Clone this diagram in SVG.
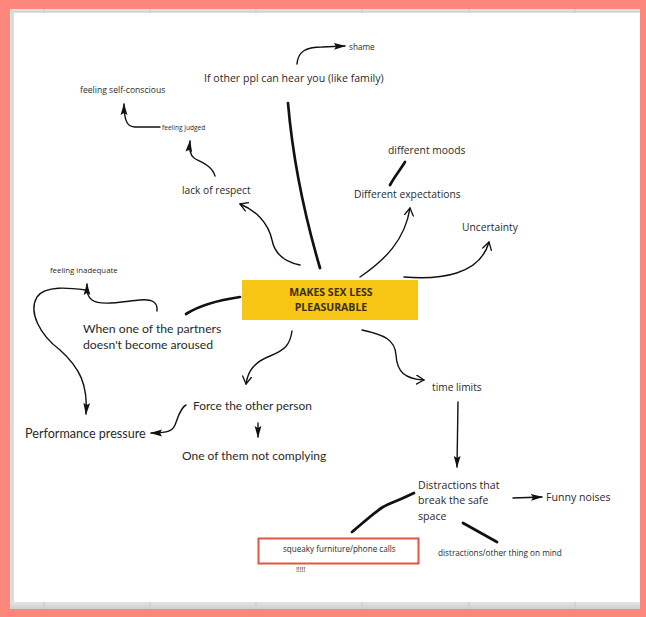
<svg xmlns="http://www.w3.org/2000/svg" width="646" height="617" viewBox="0 0 646 617">
  <defs>
    <style>
      .lbl { font-family: "Open Sans", "Liberation Sans", sans-serif; fill: #2a2a2a; }
      .rnd { font-family: Lato, "Open Sans", sans-serif; fill: #2a2a2a; }
      .head { font-family: "Open Sans", "Liberation Sans", sans-serif; font-weight: bold; fill: #3a2e10; font-size: 10.5px; }
      .ink { fill: none; stroke: #111; stroke-width: 1.4; stroke-linecap: round; stroke-linejoin: round; }
      .thick { fill: none; stroke: #111; stroke-width: 2.7; stroke-linecap: round; }
      .solid { marker-end: url(#tipSolid); }
      .open { marker-end: url(#tipOpen); }
      .grid { stroke: #c9c9c9; stroke-width: 1; }
    </style>
    <marker id="tipSolid" viewBox="0 0 12 8" refX="11" refY="4" markerWidth="12" markerHeight="8" markerUnits="userSpaceOnUse" orient="auto">
      <path d="M0,0.6 L12,4 L0,7.4 L2,4 Z" fill="#111"/>
    </marker>
    <marker id="tipOpen" viewBox="0 0 9 10" refX="8" refY="5" markerWidth="9" markerHeight="10" markerUnits="userSpaceOnUse" orient="auto">
      <path d="M0.5,0.5 L8,5 L0.5,9.5" fill="none" stroke="#111" stroke-width="1.3" stroke-linecap="round" stroke-linejoin="round"/>
    </marker>
    <linearGradient id="shadowB" x1="0" y1="0" x2="0" y2="1">
      <stop offset="0" stop-color="#e4e4e4"/>
      <stop offset="1" stop-color="#cfcfcf"/>
    </linearGradient>
  </defs>

  <!-- page frame -->
  <rect x="0" y="0" width="646" height="617" fill="#fe877c"/>
  <rect x="10" y="9" width="630" height="600" fill="#e3e3e3"/>
  <rect x="10" y="602" width="630" height="7" fill="url(#shadowB)"/>
  <line x1="10" y1="11.5" x2="640" y2="11.5" stroke="#d2d2d2" stroke-width="1.5"/>
  <line x1="12.5" y1="9" x2="12.5" y2="602" stroke="#d6d6d6" stroke-width="1.5"/>
  <g class="grid">
    <line x1="44" y1="9" x2="44" y2="13"/><line x1="150" y1="9" x2="150" y2="13"/>
    <line x1="256" y1="9" x2="256" y2="13"/><line x1="362" y1="9" x2="362" y2="13"/>
    <line x1="469" y1="9" x2="469" y2="13"/><line x1="575" y1="9" x2="575" y2="13"/>
    <line x1="44" y1="602" x2="44" y2="609"/><line x1="150" y1="602" x2="150" y2="609"/>
    <line x1="256" y1="602" x2="256" y2="609"/><line x1="362" y1="602" x2="362" y2="609"/>
    <line x1="469" y1="602" x2="469" y2="609"/><line x1="575" y1="602" x2="575" y2="609"/>
  </g>
  <rect x="14" y="13" width="626" height="589" fill="#ffffff"/>

  <!-- connectors -->
  <g id="connectors">
    <path class="ink solid" d="M297,64 C298,52 305,47 322,47 L345,46"/>
    <path class="thick" d="M288,103 C292,150 300,200 320,268"/>
    <path class="ink open" d="M300,265 C285,262 275,255 272,240 C268,222 255,210 240,204"/>
    <path class="ink solid" d="M215,176 C212,165 200,162 194,158 C190,155 189,150 190,141"/>
    <path class="ink solid" d="M160,127 L135,127 C128,127 124,122 124,104"/>
    <path class="ink open" d="M360,277 C385,260 405,240 410,208"/>
    <path class="thick" d="M390,185 C395,176 400,170 405,162"/>
    <path class="ink open" d="M404,277 C440,280 480,275 489,242"/>
    <path class="thick" d="M240,297 C220,300 200,305 186,314"/>
    <path class="ink solid" d="M157,311 C158,302 152,299 140,300 C120,302 100,306 92,300 C88,297 87,294 87,284"/>
    <path class="ink solid" d="M86,290 C70,288 45,285 37,297 C28,312 40,335 60,350 C80,368 88,385 86,414"/>
    <path class="ink open" d="M292,331 C290,345 285,350 270,356 C255,362 248,370 246,384"/>
    <path class="ink solid" d="M186,405 C180,408 178,418 175,425 C172,432 165,433 151,433"/>
    <path class="ink solid" d="M258,423 L258,437"/>
    <path class="ink open" d="M362,330 C385,335 395,340 396,355 C397,372 405,379 424,380"/>
    <path class="ink solid" d="M458,402 L457,467"/>
    <path class="ink solid" d="M513,498 L542,497"/>
    <path class="thick" d="M414,493 C400,500 390,503 383,507 C372,514 362,524 352,532"/>
    <path class="thick" d="M463,523 L497,542"/>
  </g>

  <!-- nodes -->
  <g id="center">
    <rect x="242" y="280" width="176" height="40" fill="#f7c514"/>
    <text class="head" x="331" y="296" text-anchor="middle">MAKES SEX LESS</text>
    <text class="head" x="331" y="311" text-anchor="middle">PLEASURABLE</text>
  </g>
  <g id="shame"><text class="lbl" x="349" y="50" font-size="8.2">shame</text></g>
  <g id="hear"><text class="lbl" x="204" y="82" font-size="10.6">If other ppl can hear you (like family)</text></g>
  <g id="self-conscious"><text class="lbl" x="80" y="93" font-size="8.6">feeling self-conscious</text></g>
  <g id="judged"><text class="lbl" x="162" y="130" font-size="6.6">feeling judged</text></g>
  <g id="respect"><text class="lbl" x="182" y="194" font-size="10.2">lack of respect</text></g>
  <g id="moods"><text class="lbl" x="388" y="154" font-size="10.3">different moods</text></g>
  <g id="expectations"><text class="lbl" x="354" y="198" font-size="10.3">Different expectations</text></g>
  <g id="uncertainty"><text class="lbl" x="462" y="231" font-size="10.3">Uncertainty</text></g>
  <g id="inadequate"><text class="lbl" x="50" y="273" font-size="7.8">feeling inadequate</text></g>
  <g id="aroused">
    <text class="rnd" x="83" y="333" font-size="12.2">When one of the partners</text>
    <text class="rnd" x="83" y="349" font-size="12.2">doesn't become aroused</text>
  </g>
  <g id="performance"><text class="rnd" x="25" y="438" font-size="12.6">Performance pressure</text></g>
  <g id="force"><text class="rnd" x="193" y="410" font-size="11.9">Force the other person</text></g>
  <g id="complying"><text class="rnd" x="182" y="460" font-size="12">One of them not complying</text></g>
  <g id="time"><text class="lbl" x="432" y="391" font-size="10.2">time limits</text></g>
  <g id="distractions">
    <text class="lbl" x="418" y="489" font-size="10.6">Distractions that</text>
    <text class="lbl" x="418" y="504" font-size="10.6">break the safe</text>
    <text class="lbl" x="418" y="520" font-size="10.6">space</text>
  </g>
  <g id="funny"><text class="lbl" x="546" y="501" font-size="10.6">Funny noises</text></g>
  <g id="mind"><text class="lbl" x="438" y="556" font-size="8.2">distractions/other thing on mind</text></g>
  <g id="squeaky">
    <rect x="258.5" y="538.5" width="160" height="25" fill="#ffffff" stroke="#e2553e" stroke-width="2"/>
    <text class="lbl" x="283" y="552" font-size="8.1">squeaky furniture/phone calls</text>
    <text class="lbl" x="296" y="572" font-size="7">!!!!!</text>
  </g>
</svg>
